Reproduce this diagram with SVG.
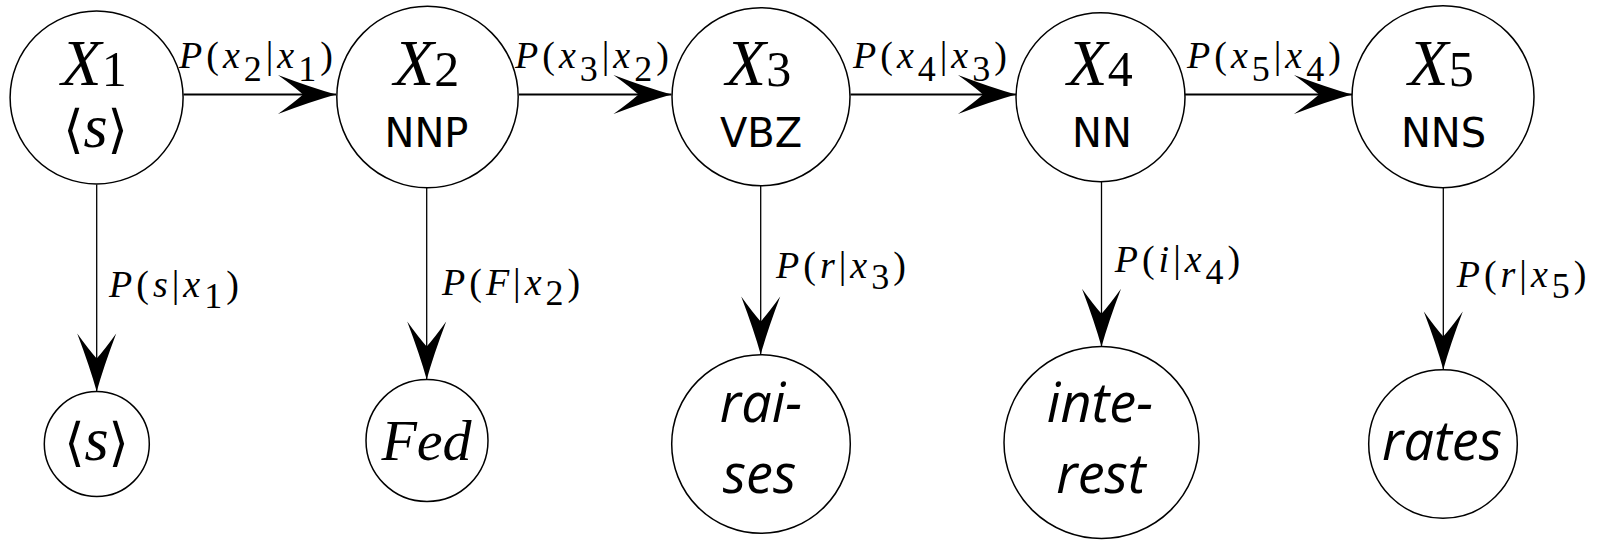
<svg xmlns="http://www.w3.org/2000/svg" width="1602" height="540" viewBox="0 0 1602 540">
<style>
.node{fill:#fff;stroke:#000;stroke-width:1.5}
.eh{stroke:#000;stroke-width:2;fill:none;marker-end:url(#ah)}
.ev{stroke:#000;stroke-width:1.3;fill:none;marker-end:url(#ah)}
.lab{font-family:"Liberation Serif","DejaVu Serif",serif;font-style:italic;font-size:38px;letter-spacing:4px;fill:#000}
.up{font-style:normal}
.sub{font-style:normal;font-size:36px}
.var{font-family:"Liberation Serif","DejaVu Serif",serif;font-style:italic;font-size:66px;text-anchor:middle;fill:#000}
.vsub{font-style:normal;font-size:50px}
.tag{font-family:"DejaVu Sans",sans-serif;font-size:40px;text-anchor:middle;fill:#000}
.word{font-family:"Open Sans",sans-serif;font-style:italic;font-size:54px;text-anchor:middle;fill:#000}
.sym{font-family:"Liberation Serif","DejaVu Serif",serif;font-style:italic;font-size:58px;text-anchor:middle;fill:#000}
.ss{font-size:62px}
.br{font-family:"DejaVu Serif",serif;font-style:normal;font-size:52px}
</style>
<defs>
<marker id="ah" viewBox="-60 -21 62 42" refX="0" refY="0" markerWidth="62" markerHeight="42" markerUnits="userSpaceOnUse" orient="auto">
<path d="M0,0 Q-25,-7 -58,-19.5 Q-42,-8 -33,0 Q-42,8 -58,19.5 Q-25,7 0,0 Z" fill="#000"/>
</marker>
</defs>
<g id="connectors">
<line class="eh" x1="183.5" y1="94.5" x2="336" y2="94.5"/>
<line class="eh" x1="519" y1="94.5" x2="671.5" y2="94.5"/>
<line class="eh" x1="850.5" y1="94.5" x2="1016" y2="94.5"/>
<line class="eh" x1="1185" y1="94.5" x2="1352" y2="94.5"/>
<line class="ev" x1="96.7" y1="184.5" x2="96.7" y2="391.5"/>
<line class="ev" x1="426.7" y1="187" x2="426.7" y2="379.5"/>
<line class="ev" x1="760.7" y1="185.2" x2="760.7" y2="354.5"/>
<line class="ev" x1="1101.5" y1="181.7" x2="1101.5" y2="346.7"/>
<line class="ev" x1="1443.3" y1="187.7" x2="1443.3" y2="369.5"/>
<text class="lab" x="179" y="68.3">P<tspan class="up">(</tspan>x<tspan class="sub" dy="13">2</tspan><tspan class="up" dy="-13">|</tspan>x<tspan class="sub" dy="13">1</tspan><tspan class="up" dy="-13">)</tspan></text>
<text class="lab" x="515" y="68.3">P<tspan class="up">(</tspan>x<tspan class="sub" dy="13">3</tspan><tspan class="up" dy="-13">|</tspan>x<tspan class="sub" dy="13">2</tspan><tspan class="up" dy="-13">)</tspan></text>
<text class="lab" x="853" y="68.3">P<tspan class="up">(</tspan>x<tspan class="sub" dy="13">4</tspan><tspan class="up" dy="-13">|</tspan>x<tspan class="sub" dy="13">3</tspan><tspan class="up" dy="-13">)</tspan></text>
<text class="lab" x="1187" y="68.3">P<tspan class="up">(</tspan>x<tspan class="sub" dy="13">5</tspan><tspan class="up" dy="-13">|</tspan>x<tspan class="sub" dy="13">4</tspan><tspan class="up" dy="-13">)</tspan></text>
<text class="lab" x="109" y="296.7">P<tspan class="up">(</tspan>s<tspan class="up">|</tspan>x<tspan class="sub" dy="11">1</tspan><tspan class="up" dy="-11">)</tspan></text>
<text class="lab" x="442" y="295">P<tspan class="up">(</tspan>F<tspan class="up">|</tspan>x<tspan class="sub" dy="10">2</tspan><tspan class="up" dy="-10">)</tspan></text>
<text class="lab" x="776" y="277.7">P<tspan class="up">(</tspan>r<tspan class="up">|</tspan>x<tspan class="sub" dy="11">3</tspan><tspan class="up" dy="-11">)</tspan></text>
<text class="lab" x="1114.7" y="271.7">P<tspan class="up">(</tspan>i<tspan class="up">|</tspan>x<tspan class="sub" dy="12">4</tspan><tspan class="up" dy="-12">)</tspan></text>
<text class="lab" x="1456.7" y="286.7">P<tspan class="up">(</tspan>r<tspan class="up">|</tspan>x<tspan class="sub" dy="11">5</tspan><tspan class="up" dy="-11">)</tspan></text>
</g>
<g id="X1">
<circle class="node" cx="96.6" cy="97.5" r="86.5"/>
<text class="var" x="94" y="85">X<tspan class="vsub" dy="1">1</tspan></text>
<text class="sym ss" x="95.5" y="147"><tspan class="br">⟨</tspan>s<tspan class="br">⟩</tspan></text>
</g>
<g id="X2">
<circle class="node" cx="427.5" cy="97" r="90.7"/>
<text class="var" x="426.5" y="85">X<tspan class="vsub" dy="1">2</tspan></text>
<text class="tag" x="426.5" y="147">NNP</text>
</g>
<g id="X3">
<circle class="node" cx="761" cy="96.7" r="89"/>
<text class="var" x="758.5" y="85">X<tspan class="vsub" dy="1">3</tspan></text>
<text class="tag" x="761" y="147">VBZ</text>
</g>
<g id="X4">
<circle class="node" cx="1100.5" cy="97.2" r="84.5"/>
<text class="var" x="1100" y="85">X<tspan class="vsub" dy="1">4</tspan></text>
<text class="tag" x="1102" y="147">NN</text>
</g>
<g id="X5">
<circle class="node" cx="1443" cy="96.7" r="91"/>
<text class="var" x="1441" y="85">X<tspan class="vsub" dy="1">5</tspan></text>
<text class="tag" x="1443.5" y="147">NNS</text>
</g>
<g id="W1">
<circle class="node" cx="96.8" cy="444" r="52.5"/>
<text class="sym ss" x="96.5" y="460"><tspan class="br">⟨</tspan>s<tspan class="br">⟩</tspan></text>
</g>
<g id="W2">
<circle class="node" cx="427" cy="440.5" r="61"/>
<text class="sym" x="426.5" y="460">Fed</text>
</g>
<g id="W3">
<circle class="node" cx="761" cy="444" r="89.3"/>
<text class="word" x="761" y="421.7">rai-</text>
<text class="word" x="759.5" y="493.3">ses</text>
</g>
<g id="W4">
<ellipse class="node" cx="1101.5" cy="442.5" rx="97.5" ry="96"/>
<text class="word" x="1100" y="421.7">inte-</text>
<text class="word" x="1101" y="493.3">rest</text>
</g>
<g id="W5">
<circle class="node" cx="1443" cy="444" r="74.3"/>
<text class="word" x="1442" y="460">rates</text>
</g>
</svg>
